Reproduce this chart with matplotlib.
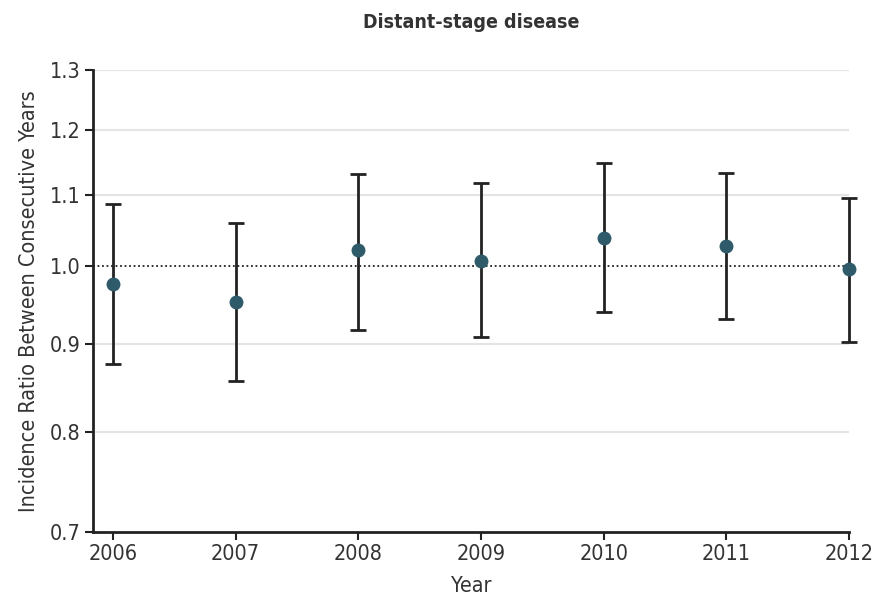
import matplotlib
matplotlib.use("Agg")
import matplotlib.pyplot as plt
from matplotlib.ticker import FixedLocator, NullLocator, FixedFormatter

years = [2006, 2007, 2008, 2009, 2010, 2011, 2012]
ratio = [0.976, 0.953, 1.021, 1.007, 1.038, 1.027, 0.996]
ci_low = [0.877, 0.857, 0.918, 0.909, 0.940, 0.931, 0.903]
ci_high = [1.086, 1.059, 1.131, 1.117, 1.147, 1.132, 1.095]
yticks = [0.7, 0.8, 0.9, 1.0, 1.1, 1.2, 1.3]
ytick_labels = ["0.7", "0.8", "0.9", "1.0", "1.1", "1.2", "1.3"]

plt.rcParams['font.family'] = ['DejaVu Sans']
plt.rcParams['font.stretch'] = 'condensed'

fig = plt.figure(figsize=(8.73, 6.0), dpi=100)
ax = fig.add_axes([93/873, 68/600, (849-93)/873, (532-70)/600])

ax.set_yscale('log')
ax.set_ylim(0.7, 1.3)
ax.set_xlim(2006 - 20/122.7, 2012)

for t in yticks:
    if t not in (0.7, 1.0):
        ax.axhline(t, color='#e4e4e4', lw=1.5, zorder=0)
ax.axhline(1.0, color='#222222', lw=1.3, ls=(0, (1, 1.5)), zorder=1)

yerr = [[r - l for r, l in zip(ratio, ci_low)], [h - r for r, h in zip(ratio, ci_high)]]
eb = ax.errorbar(years, ratio, yerr=yerr, fmt='o', color='#2e5a6a', ms=9,
                 ecolor='#222222', elinewidth=2, capsize=6, capthick=2, zorder=3)
eb.lines[0].set_clip_on(False)
for art in list(eb.lines[1]) + list(eb.lines[2]):
    art.set_clip_on(False)

ax.yaxis.set_major_locator(FixedLocator(yticks))
ax.yaxis.set_major_formatter(FixedFormatter(ytick_labels))
ax.yaxis.set_minor_locator(NullLocator())
ax.set_xticks(years)
ax.set_xticklabels([str(y) for y in years])

for s in ['top', 'right']:
    ax.spines[s].set_visible(False)
for s in ['left', 'bottom']:
    ax.spines[s].set_linewidth(2)
    ax.spines[s].set_color('#222222')
ax.tick_params(axis='both', direction='out', length=6, width=1.5, colors='#222222',
               labelsize=15.5, labelcolor='#333333', pad=3)

ax.set_xlabel("Year", fontsize=15.5, color='#333333', labelpad=8)
ax.set_ylabel("Incidence Ratio Between Consecutive Years", fontsize=15.5, color='#333333', labelpad=8)
ax.set_title("Distant-stage disease", fontsize=14, fontweight='bold', color='#333333', pad=30)

fig.savefig("out.png", dpi=100)
